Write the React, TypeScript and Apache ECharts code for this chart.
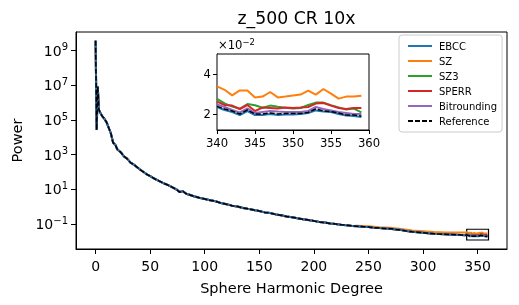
import React, { useEffect, useRef } from "react";
import * as echarts from "echarts";

const seriesNames = ["EBCC", "SZ", "SZ3", "SPERR", "Bitrounding", "Reference"];
const seriesColors = ["#1f77b4", "#ff7f0e", "#2ca02c", "#d62728", "#9467bd", "#000000"];
// drawing order (higher = on top)
const seriesZ = [8, 3, 4, 5, 6, 9];

// Shared main curve (all compressors overlap the reference at this scale)
const mainDegrees = [0, 1, 2, 3, 4, 6, 8, 10, 12, 14, 16, 18, 20, 23, 26, 29, 32, 35, 38, 41, 44, 47, 50, 54, 58, 62, 66, 70, 74, 77, 80, 83, 86, 90, 95, 100, 105, 110, 115, 120, 125, 130, 135, 140, 145, 150, 155, 160, 165, 170, 175, 180, 185, 190, 195, 200, 205, 210, 215, 220, 225, 230, 235, 240, 245, 250, 255, 260, 265, 270, 275, 280, 285, 290, 295, 300, 305, 310, 315, 320, 325, 330, 335, 339];
const mainPower = [3.8e9, 2.7e4, 8.7e6, 4.0e5, 2.8e5, 1.7e5, 1.2e5, 7.5e4, 3.6e4, 1.7e4, 5.0e3, 3.8e3, 2.0e3, 1.4e3, 8.0e2, 5.8e2, 3.5e2, 2.7e2, 1.9e2, 1.35e2, 1.0e2, 7.4e1, 5.8e1, 4.1e1, 3.1e1, 2.3e1, 1.8e1, 1.35e1, 1.0e1, 7.0, 7.8, 5.6, 4.9, 4.0, 3.3, 2.8, 2.35, 2.05, 1.62, 1.4, 1.15, 1.02, 0.85, 0.75, 0.64, 0.57, 0.47, 0.43, 0.36, 0.32, 0.27, 0.245, 0.215, 0.19, 0.172, 0.152, 0.133, 0.121, 0.106, 0.1, 0.09, 0.086, 0.078, 0.074, 0.07, 0.068, 0.062, 0.059, 0.055, 0.054, 0.049, 0.045, 0.039, 0.0355, 0.0338, 0.0315, 0.0293, 0.0276, 0.0262, 0.0258, 0.025, 0.0242, 0.0233, 0.0229];

// SZ sits slightly above the others in the tail
const szTailDegrees = [240, 250, 260, 270, 280, 290, 300, 310, 320, 330, 339];
const szTailPower = [0.08, 0.074, 0.066, 0.061, 0.052, 0.043, 0.039, 0.035, 0.033, 0.032, 0.032];

// Inset: degrees 340..359
const insetDegrees = [340, 341, 342, 343, 344, 345, 346, 347, 348, 349, 350, 351, 352, 353, 354, 355, 356, 357, 358, 359];
const ebccInset = [0.0235, 0.022, 0.021, 0.0195, 0.0215, 0.0195, 0.0195, 0.02, 0.0195, 0.0198, 0.0198, 0.02, 0.0205, 0.0218, 0.0212, 0.021, 0.02, 0.0192, 0.019, 0.0185];
const szInset = [0.0338, 0.0321, 0.0293, 0.0318, 0.0318, 0.0283, 0.0287, 0.031, 0.0283, 0.0287, 0.0292, 0.0297, 0.0317, 0.0297, 0.0325, 0.0302, 0.0277, 0.0287, 0.0287, 0.0291];
const sz3Inset = [0.0276, 0.0253, 0.0237, 0.0226, 0.025, 0.0244, 0.0231, 0.0242, 0.0236, 0.0231, 0.0227, 0.023, 0.0245, 0.0257, 0.0257, 0.0244, 0.0233, 0.0222, 0.0227, 0.0208];
const sperrInset = [0.0262, 0.0245, 0.0242, 0.0225, 0.0245, 0.0215, 0.0232, 0.023, 0.0228, 0.0232, 0.023, 0.0232, 0.0235, 0.0252, 0.0255, 0.0242, 0.023, 0.0225, 0.023, 0.023];
const bitroundingInset = [0.0248, 0.0235, 0.022, 0.0208, 0.0228, 0.0205, 0.021, 0.0215, 0.0212, 0.021, 0.021, 0.021, 0.0215, 0.0235, 0.0225, 0.0218, 0.021, 0.0205, 0.02, 0.02];
const referenceInset = [0.0238, 0.0225, 0.0215, 0.02, 0.022, 0.02, 0.02, 0.0205, 0.02, 0.0202, 0.0202, 0.0203, 0.0208, 0.0225, 0.0215, 0.0212, 0.0205, 0.0195, 0.0195, 0.019];

const mainXTicks = [0, 50, 100, 150, 200, 250, 300, 350];
const mainYTickExps = [-1, 1, 3, 5, 7, 9];
const insetYTicks = [0.02, 0.04];
const insetXRange = [340, 360];
const insetYRange = [0.012, 0.05];

const FONT = "DejaVu Sans";

function buildMain(idx: number, inset: number[]): [number, number][] {
  const pts: [number, number][] = [];
  if (idx === 1) {
    mainDegrees.forEach((d, i) => {
      if (d < szTailDegrees[0]) pts.push([d, Math.log10(mainPower[i])]);
    });
    szTailDegrees.forEach((d, i) => pts.push([d, Math.log10(szTailPower[i])]));
  } else {
    mainDegrees.forEach((d, i) => pts.push([d, Math.log10(mainPower[i])]));
  }
  insetDegrees.forEach((d, i) => pts.push([d, Math.log10(inset[i])]));
  return pts;
}

export default function App() {
  const ref = useRef<HTMLDivElement>(null);
  useEffect(() => {
    if (!ref.current) return;
    const chart = echarts.init(ref.current, undefined, { renderer: "svg" });
    const insets = [ebccInset, szInset, sz3Inset, sperrInset, bitroundingInset, referenceInset];
    const series: any[] = [];
    seriesNames.forEach((name, i) => {
      const isRef = name === "Reference";
      series.push({
        name,
        type: "line",
        xAxisIndex: 0,
        yAxisIndex: 0,
        symbol: "none",
        showSymbol: false,
        data: buildMain(i, insets[i]),
        lineStyle: { color: seriesColors[i], width: isRef ? 1.5 : 2, type: isRef ? [5, 2] : "solid" },
        itemStyle: { color: seriesColors[i] },
        z: seriesZ[i],
        markArea: isRef
          ? {
              silent: true,
              itemStyle: { color: "rgba(0,0,0,0)", borderColor: "#000", borderWidth: 1.2 },
              data: [[{ coord: [insetXRange[0], Math.log10(insetYRange[0])] }, { coord: [insetXRange[1], Math.log10(insetYRange[1])] }]],
            }
          : undefined,
      });
    });
    seriesNames.forEach((name, i) => {
      const isRef = name === "Reference";
      series.push({
        name,
        type: "line",
        xAxisIndex: 1,
        yAxisIndex: 1,
        symbol: "none",
        showSymbol: false,
        data: insetDegrees.map((d, k) => [d, insets[i][k]]),
        lineStyle: { color: seriesColors[i], width: isRef ? 1.5 : 2, type: isRef ? [5, 2] : "solid" },
        itemStyle: { color: seriesColors[i] },
        z: 10 + seriesZ[i],
      });
    });

    const supExp = (n: number) => (n < 0 ? "\u2212" + Math.abs(n) : String(n));

    chart.setOption({
      animation: false,
      title: {
        text: "z_500 CR 10x",
        left: 291.5,
        top: 4,
        textAlign: "center",
        textStyle: { fontFamily: FONT, fontSize: 17.3, fontWeight: "normal", color: "#000" },
      },
      legend: {
        orient: "vertical",
        left: 399,
        top: 35,
        padding: [5, 5, 5, 8],
        itemWidth: 24,
        itemHeight: 12,
        itemGap: 3,
        borderColor: "#cccccc",
        borderWidth: 1,
        borderRadius: 3,
        backgroundColor: "rgba(255,255,255,0.8)",
        itemStyle: { opacity: 0 },
        textStyle: { fontFamily: FONT, fontSize: 10, color: "#000", lineHeight: 12, padding: [0, 0, 0, 2] },
        data: seriesNames.map((n) => ({ name: n })),
        z: 20,
      },
      grid: [
        { left: 76, top: 32, width: 431, height: 217, show: true, borderColor: "#000", borderWidth: 1, backgroundColor: "#fff", z: 0 },
        { left: 217, top: 54, width: 152, height: 76, show: true, borderColor: "#000", borderWidth: 1, backgroundColor: "#fff", z: 5 },
      ],
      xAxis: [
        {
          type: "value",
          gridIndex: 0,
          min: -17.95,
          max: 376.95,
          name: "Sphere Harmonic Degree",
          nameLocation: "middle",
          nameGap: 31,
          nameTextStyle: { fontFamily: FONT, fontSize: 14.5, color: "#000" },
          axisLine: { show: true, onZero: false, lineStyle: { color: "#000", width: 1 } },
          axisTick: { show: true, inside: false, length: 5, customValues: mainXTicks, lineStyle: { color: "#000" } },
          axisLabel: { customValues: mainXTicks, fontFamily: FONT, fontSize: 14, color: "#000", margin: 10 },
          splitLine: { show: false },
        },
        {
          type: "value",
          gridIndex: 1,
          min: insetXRange[0],
          max: insetXRange[1],
          interval: 5,
          axisLine: { show: true, onZero: false, lineStyle: { color: "#000", width: 1 } },
          axisTick: { show: true, inside: false, length: 4, lineStyle: { color: "#000" } },
          axisLabel: { fontFamily: FONT, fontSize: 11.6, color: "#000", margin: 7, showMinLabel: true, showMaxLabel: true },
          splitLine: { show: false },
        },
      ],
      yAxis: [
        {
          type: "value",
          gridIndex: 0,
          min: -2.44,
          max: 10.08,
          name: "Power",
          nameLocation: "middle",
          nameGap: 52,
          nameRotate: 90,
          nameTextStyle: { fontFamily: FONT, fontSize: 14.5, color: "#000" },
          axisLine: { show: true, onZero: false, lineStyle: { color: "#000", width: 1 } },
          axisTick: { show: true, inside: false, length: 5, customValues: mainYTickExps, lineStyle: { color: "#000" } },
          axisLabel: {
            customValues: mainYTickExps,
            margin: 8,
            formatter: (v: number) => `{b|10}{s|${supExp(Math.round(v))}}`,
            rich: {
              b: { fontFamily: FONT, fontSize: 14, color: "#000" },
              s: { fontFamily: FONT, fontSize: 10, color: "#000", verticalAlign: "top", padding: [0, 0, 8, 0] },
            },
          },
          splitLine: { show: false },
        },
        {
          type: "value",
          gridIndex: 1,
          min: insetYRange[0],
          max: insetYRange[1],
          axisLine: { show: true, onZero: false, lineStyle: { color: "#000", width: 1 } },
          axisTick: { show: true, inside: false, length: 4, customValues: insetYTicks, lineStyle: { color: "#000" } },
          axisLabel: {
            customValues: insetYTicks,
            fontFamily: FONT,
            fontSize: 11.6,
            color: "#000",
            margin: 6,
            formatter: (v: number) => String(Math.round(v * 100)),
          },
          splitLine: { show: false },
        },
      ],
      graphic: [
        {
          type: "text",
          left: 218,
          top: 37,
          z: 30,
          style: {
            text: "{a|\u00d710}{s|\u22122}",
            rich: {
              a: { fontFamily: FONT, fontSize: 11.6, fill: "#000", color: "#000" },
              s: { fontFamily: FONT, fontSize: 8.5, fill: "#000", color: "#000", padding: [0, 0, 6, 0] },
            },
          },
        },
      ],
      series,
    });
    return () => chart.dispose();
  }, []);
  return <div ref={ref} style={{ position: "fixed", left: 0, top: 0, width: 519, height: 305 }} />;
}
